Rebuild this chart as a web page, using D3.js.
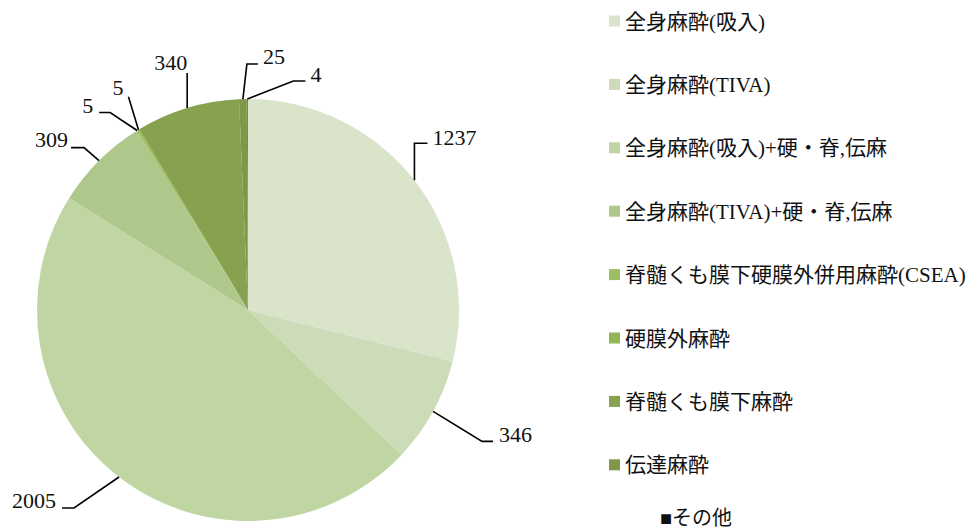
<!DOCTYPE html>
<html lang="ja">
<head>
<meta charset="UTF-8">
<title>麻酔方法</title>
<script src="https://d3js.org/d3.v7.min.js"></script>
<style>
  body { margin: 0; background: #fff; }
  text { font-family: "Liberation Serif", "Noto Sans CJK JP", serif; fill: #111; }
</style>
</head>
<body>
<div id="chart"></div>
<script>
// categories (legend order = slice order, clockwise from 12 o'clock)
const categories = [
  "全身麻酔(吸入)",
  "全身麻酔(TIVA)",
  "全身麻酔(吸入)+硬・脊,伝麻",
  "全身麻酔(TIVA)+硬・脊,伝麻",
  "脊髄くも膜下硬膜外併用麻酔(CSEA)",
  "硬膜外麻酔",
  "脊髄くも膜下麻酔",
  "伝達麻酔",
  "その他"
];
const values = [1237, 346, 2005, 309, 5, 5, 340, 25, 4];
const colors = ["#d9e4cb", "#cddcb8", "#bfd5a2", "#adc88a", "#9dbf62", "#94b556", "#87a24e", "#7e9847", "#758f40"];

// leader line geometry, relative to the slice's outer edge point:
// [elbow dx, elbow dy, end dx, end dy, text dx, text dy, anchor]
const labelOffsets = [
  [0, -37, 13, -37, 18, -35, "start"],
  [49, 30, 60, 30, 66, 31, "start"],
  [-45, 31, -57, 31, -63, 31, "end"],
  [-15, -13, -28, -13, -31, -14, "end"],
  [-27, -18, -38, -18, -44, -17, "end"],
  [-10, -33, -10, -33, -15, -35, "end"],
  [0, -35, 0, -35, 0, -38, "end"],
  [4, -35, 15, -35, 20, -35, "start"],
  [46, -18, 58, -18, 63, -17, "start"]
];

const width = 980, height = 531;
const cx = 248, cy = 310, radius = 211;

const svg = d3.select("#chart").append("svg")
  .attr("width", width)
  .attr("height", height);

const g = svg.append("g").attr("transform", `translate(${cx},${cy})`);

const pie = d3.pie().sort(null).value(d => d);
const arcs = pie(values);
const arc = d3.arc().innerRadius(0).outerRadius(radius);

g.selectAll("path.slice")
  .data(arcs)
  .join("path")
  .attr("class", "slice")
  .attr("d", arc)
  .attr("fill", (d, i) => colors[i]);

// labels with leader lines
function edgePoint(d) {
  const a = (d.startAngle + d.endAngle) / 2;
  return [radius * Math.sin(a), -radius * Math.cos(a)];
}

g.selectAll("path.leader")
  .data(arcs)
  .join("path")
  .attr("class", "leader")
  .attr("fill", "none")
  .attr("stroke", "#000")
  .attr("stroke-width", 1.6)
  .attr("d", (d, i) => {
    const [x, y] = edgePoint(d);
    const o = labelOffsets[i];
    return d3.line()([[x, y], [x + o[0], y + o[1]], [x + o[2], y + o[3]]]);
  });

g.selectAll("text.val")
  .data(arcs)
  .join("text")
  .attr("class", "val")
  .attr("x", (d, i) => edgePoint(d)[0] + labelOffsets[i][4])
  .attr("y", (d, i) => edgePoint(d)[1] + labelOffsets[i][5])
  .attr("text-anchor", (d, i) => labelOffsets[i][6])
  .style("font-size", "22px")
  .text(d => d.data);

// legend
const legendX = 609, legendY0 = 21, legendStep = 63.4;
const legend = svg.append("g");

const items = legend.selectAll("g.item")
  .data(categories.slice(0, 8))
  .join("g")
  .attr("class", "item")
  .attr("transform", (d, i) => `translate(${legendX},${legendY0 + i * legendStep})`);

items.append("rect")
  .attr("x", 0).attr("y", -5.5)
  .attr("width", 11).attr("height", 11)
  .attr("fill", (d, i) => colors[i]);

items.append("text")
  .attr("x", 16)
  .attr("dy", "0.36em")
  .style("font-size", "21px")
  .text(d => d);

// last entry overflows in the original and is shown as plain text
legend.append("text")
  .attr("x", 660)
  .attr("y", 518)
  .attr("dy", "0.36em")
  .style("font-size", "20px")
  .text("■" + categories[8]);
</script>
</body>
</html>
